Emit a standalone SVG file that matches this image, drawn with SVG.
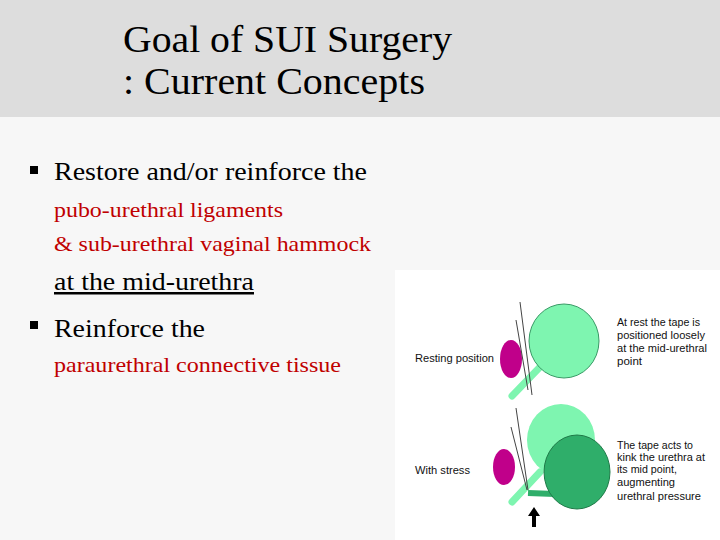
<svg xmlns="http://www.w3.org/2000/svg" width="720" height="540" viewBox="0 0 720 540">
<style>
.t{font-family:"Liberation Serif",serif;fill:#000}
.r{font-family:"Liberation Serif",serif;fill:#c00000;font-size:21px}
.s{font-family:"Liberation Sans",Arial,sans-serif;font-size:11px;fill:#111}
.l{stroke:#444;stroke-width:1}
</style>
<rect width="720" height="540" fill="#f7f7f7"/>
<rect width="720" height="117" fill="#dddddd"/>
<text class="t" x="123" y="52" font-size="37" textLength="329" lengthAdjust="spacingAndGlyphs">Goal of SUI Surgery</text>
<text class="t" x="123" y="94" font-size="37" textLength="302" lengthAdjust="spacingAndGlyphs">: Current Concepts</text>
<rect x="30" y="166" width="8" height="8" fill="#000"/>
<text class="t" x="54" y="180" font-size="25" textLength="313" lengthAdjust="spacingAndGlyphs">Restore and/or reinforce the</text>
<text class="r" x="54" y="217" textLength="229" lengthAdjust="spacingAndGlyphs">pubo-urethral ligaments</text>
<text class="r" x="54" y="251" textLength="317" lengthAdjust="spacingAndGlyphs">&amp; sub-urethral vaginal hammock</text>
<text class="t" x="54" y="290" font-size="25" textLength="200" lengthAdjust="spacingAndGlyphs" text-decoration="underline">at the mid-urethra</text>
<rect x="30" y="321" width="8" height="8" fill="#000"/>
<text class="t" x="54" y="337" font-size="25" textLength="151" lengthAdjust="spacingAndGlyphs">Reinforce the</text>
<text class="r" x="54" y="372" textLength="287" lengthAdjust="spacingAndGlyphs">paraurethral connective tissue</text>
<g id="figure">
<rect x="395" y="270" width="325" height="270" fill="#fff"/>
<path d="M540 367 L512 396" stroke="#7ef5b0" stroke-width="7" stroke-linecap="round" fill="none"/>
<ellipse cx="564" cy="341" rx="35" ry="37" fill="#7ef5b0" stroke="#3a9a66" stroke-width="1"/>
<ellipse cx="511" cy="359" rx="11" ry="19" fill="#c0008a"/>
<line class="l" x1="520" y1="302" x2="532" y2="395"/>
<line class="l" x1="516" y1="320" x2="528" y2="390"/>
<text class="s" x="415" y="362" textLength="79" lengthAdjust="spacingAndGlyphs">Resting position</text>
<text class="s" x="617" y="326" textLength="83" lengthAdjust="spacingAndGlyphs">At rest the tape is</text>
<text class="s" x="617" y="339" textLength="88" lengthAdjust="spacingAndGlyphs">positioned loosely</text>
<text class="s" x="617" y="352" textLength="90" lengthAdjust="spacingAndGlyphs">at the mid-urethral</text>
<text class="s" x="617" y="365" textLength="25" lengthAdjust="spacingAndGlyphs">point</text>
<path d="M540 472 L512 502" stroke="#7ef5b0" stroke-width="7" stroke-linecap="round" fill="none"/>
<path d="M528 493 L555 494" stroke="#2fae6a" stroke-width="6" fill="none"/>
<ellipse cx="561" cy="440" rx="34" ry="36" fill="#7ef5b0"/>
<ellipse cx="577" cy="472" rx="33" ry="37" fill="#2fae6a" stroke="#1f7a48" stroke-width="1"/>
<ellipse cx="504" cy="467" rx="11" ry="18" fill="#c0008a"/>
<line class="l" x1="516" y1="408" x2="528" y2="490"/>
<line class="l" x1="511" y1="427" x2="527" y2="490"/>
<text class="s" x="415" y="474" textLength="55" lengthAdjust="spacingAndGlyphs">With stress</text>
<text class="s" x="617" y="449" textLength="76" lengthAdjust="spacingAndGlyphs">The tape acts to</text>
<text class="s" x="617" y="461" textLength="88" lengthAdjust="spacingAndGlyphs">kink the urethra at</text>
<text class="s" x="617" y="473" textLength="60" lengthAdjust="spacingAndGlyphs">its mid point,</text>
<text class="s" x="617" y="486" textLength="58" lengthAdjust="spacingAndGlyphs">augmenting</text>
<text class="s" x="617" y="500" textLength="84" lengthAdjust="spacingAndGlyphs">urethral pressure</text>
<path d="M534 507 L540 516 L536 516 L536 527 L532 527 L532 516 L528 516 Z" fill="#000"/>
</g>
</svg>
